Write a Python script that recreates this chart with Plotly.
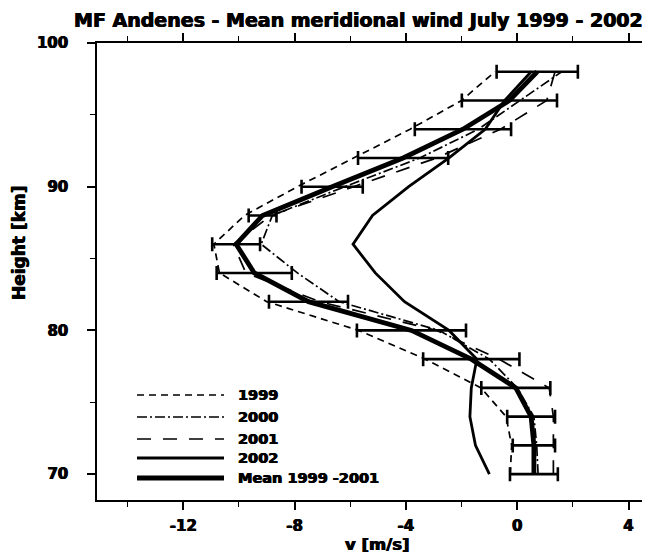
import plotly.graph_objects as go

heights = [70, 72, 74, 76, 78, 80, 82, 84, 86, 88, 90, 92, 94, 96, 98]
v1999 = [-0.25, -0.2, -0.4, -1.3, -3.3, -5.7, -9.0, -10.7, -10.9, -9.8, -7.9, -5.9, -3.85, -2.0, -0.8]
v2000 = [0.75, 0.7, 0.6, 0.0, -1.0, -2.8, -6.4, -7.9, -9.2, -8.8, -6.2, -3.5, -1.4, 0.1, 1.6]
v2001 = [1.3, 1.3, 1.3, 1.15, -0.65, -2.9, -7.1, -9.75, -10.2, -8.85, -5.85, -2.9, -0.6, 1.06, 1.36]
v2002 = [-1.0, -1.5, -1.7, -1.65, -1.45, -2.45, -4.05, -5.1, -5.9, -5.2, -3.9, -2.45, -1.15, -0.45, 0.5]
vmean = [0.6, 0.6, 0.5, -0.05, -1.65, -3.8, -7.5, -9.45, -10.1, -9.15, -6.65, -4.1, -1.95, -0.28, 0.72]
verr = [0.86, 0.76, 0.86, 1.24, 1.73, 1.96, 1.42, 1.35, 0.86, 0.5, 1.1, 1.62, 1.73, 1.71, 1.46]

legend_labels = ["1999", "2000", "2001", "2002", "Mean 1999 -2001"]
x_ticks = [-12, -8, -4, 0, 4]
y_ticks = [70, 80, 90, 100]

FONT = "DejaVu Sans"
SHADOW = "0.5px 0 0 black, -0.5px 0 0 black"
styles = [
    dict(width=1.7, dash="7px,5px"),
    dict(width=1.7, dash="10px,3px,2px,3px"),
    dict(width=1.7, dash="14px,12px"),
    dict(width=2.8, dash="solid"),
    dict(width=4.8, dash="solid"),
]

def fnt(size):
    return dict(family=FONT, size=size, color="black", weight="bold", shadow=SHADOW)

fig = go.Figure()
series = [v1999, v2000, v2001, v2002]
for name, vals, st in zip(legend_labels[:4], series, styles[:4]):
    fig.add_trace(go.Scatter(x=vals, y=heights, mode="lines", name=name,
                             line=dict(color="black", **st), showlegend=False))
fig.add_trace(go.Scatter(x=vmean, y=heights, mode="lines", name=legend_labels[4],
                         line=dict(color="black", **styles[4]), showlegend=False,
                         error_x=dict(type="data", array=verr, visible=True,
                                      color="black", thickness=2.6, width=7)))

# page body adds an 8px offset; work in reference pixel coordinates
OFF = 8
W, H = 650 - OFF, 555 - OFF
ml, mr, mt, mb = 97 - OFF, 2, 43 - OFF, 555 - 500
pw, ph = W - ml - mr, H - mt - mb
def px2paper(x, y):
    return (x - OFF - ml) / pw, (H - mb - (y - OFF)) / ph

leg_y = [395, 417, 439, 458, 478]
for lab, st, yy in zip(legend_labels, styles, leg_y):
    x0, y0 = px2paper(137, yy)
    x1, _ = px2paper(224, yy)
    fig.add_shape(type="line", xref="paper", yref="paper", x0=x0, x1=x1, y0=y0, y1=y0,
                  line=dict(color="black", width=st["width"], dash=st["dash"]))
    tx, _ = px2paper(236, yy)
    fig.add_annotation(xref="paper", yref="paper", x=tx, y=y0, text=lab,
                       showarrow=False, xanchor="left", yanchor="middle", font=fnt(14.5))

fig.update_layout(
    width=W, height=H,
    margin=dict(l=ml, r=mr, t=mt, b=mb, autoexpand=False),
    paper_bgcolor="white", plot_bgcolor="white",
    font=fnt(15),
    showlegend=False,
)
fig.update_xaxes(range=[-15.1, 4.7], tickvals=x_ticks, ticktext=[str(t) for t in x_ticks],
                 automargin=False,
                 showgrid=False, zeroline=False, showline=True, linecolor="black", linewidth=1.5,
                 mirror="allticks", ticks="outside", ticklen=8, tickwidth=1.5, tickcolor="black",
                 minor=dict(tickvals=[-14, -10, -6, -2, 2], ticks="outside", ticklen=5, tickwidth=1.2, tickcolor="black"),
                 ticklabelstandoff=3, tickfont=fnt(15))
fig.update_yaxes(range=[68.2, 100], tickvals=y_ticks, ticktext=[str(t) for t in y_ticks],
                 automargin=False,
                 showgrid=False, zeroline=False, showline=True, linecolor="black", linewidth=1.5,
                 mirror="allticks", ticks="outside", ticklen=8, tickwidth=1.5, tickcolor="black",
                 minor=dict(tickvals=[75, 85, 95], ticks="outside", ticklen=5, tickwidth=1.2, tickcolor="black"),
                 ticklabelstandoff=16, tickfont=fnt(15))

tx, ty = px2paper(72, 20)
fig.add_annotation(xref="paper", yref="paper", x=tx, y=ty,
                   text="MF Andenes - Mean meridional wind July 1999 - 2002",
                   showarrow=False, xanchor="left", yanchor="middle", font=fnt(19))
tx, ty = px2paper(377, 544)
fig.add_annotation(xref="paper", yref="paper", x=tx, y=ty,
                   text="v [m/s]", showarrow=False, xanchor="center", yanchor="middle", font=fnt(16.5))
tx, ty = px2paper(19, 243)
fig.add_annotation(xref="paper", yref="paper", x=tx, y=ty,
                   text="Height [km]", showarrow=False, textangle=-90,
                   xanchor="center", yanchor="middle", font=fnt(17))

fig.write_html("out.html")
